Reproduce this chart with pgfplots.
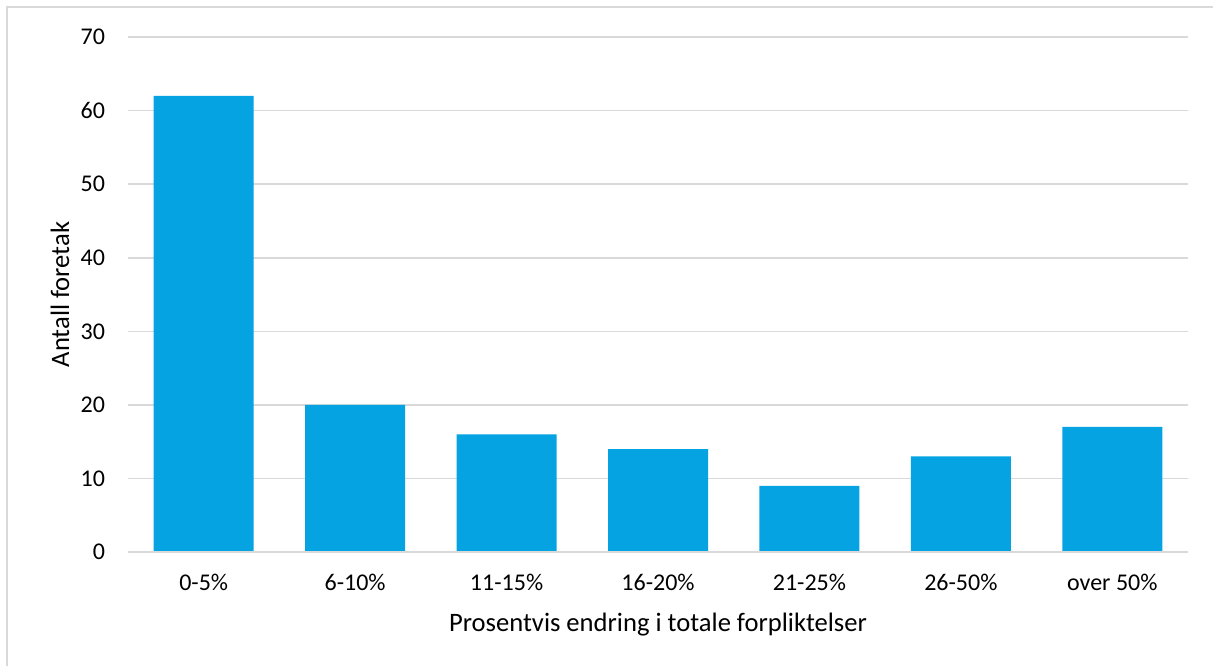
\documentclass[border=0pt]{standalone}
\usepackage{pgfplots}
\pgfplotsset{compat=1.18}
\usepackage{fontspec}
\setmainfont{Carlito}
\definecolor{barblue}{HTML}{05A3E2}
\definecolor{gridgray}{HTML}{D9D9D9}
\begin{document}
\begin{tikzpicture}
\useasboundingbox (0,0) rectangle (606.5pt,333pt);
\draw[gridgray, line width=1pt] (3.5pt,0) -- (3.5pt,329.5pt) -- (606.5pt,329.5pt);
\begin{axis}[
  at={(64pt,57pt)}, anchor=south west,
  scale only axis,
  width=530pt, height=257.5pt,
  ymin=0, ymax=70, ytick={0,10,...,70},
  xmin=-0.5, xmax=6.5,
  xtick=data,
  xticklabels={0-5\%,6-10\%,11-15\%,16-20\%,21-25\%,26-50\%,over 50\%},
  axis line style={draw=none},
  major tick length=0pt,
  ymajorgrids, grid style={gridgray, line width=0.8pt},
  tick label style={font=\fontsize{12}{14}\selectfont},
  /pgf/number format/assume math mode=true,
  yticklabel style={xshift=-8pt},
  xticklabel style={yshift=-7.5pt},
  xlabel={Prosentvis endring i totale forpliktelser},
  ylabel={Antall foretak},
  label style={font=\fontsize{13.3}{15}\selectfont},
  xlabel style={at={(axis description cs:0.5,0)}, anchor=center, yshift=-36.5pt},
  ylabel style={at={(axis description cs:0,0.5)}, anchor=center, yshift=34pt},
  clip=false,
]
\addplot[ybar, bar width=50pt, fill=barblue, draw=none] coordinates {
  (0,62) (1,20) (2,16) (3,14) (4,9) (5,13) (6,17)
};
\draw[gridgray, line width=0.8pt] (axis cs:-0.5,0) -- (axis cs:6.5,0);
\end{axis}
\end{tikzpicture}
\end{document}
